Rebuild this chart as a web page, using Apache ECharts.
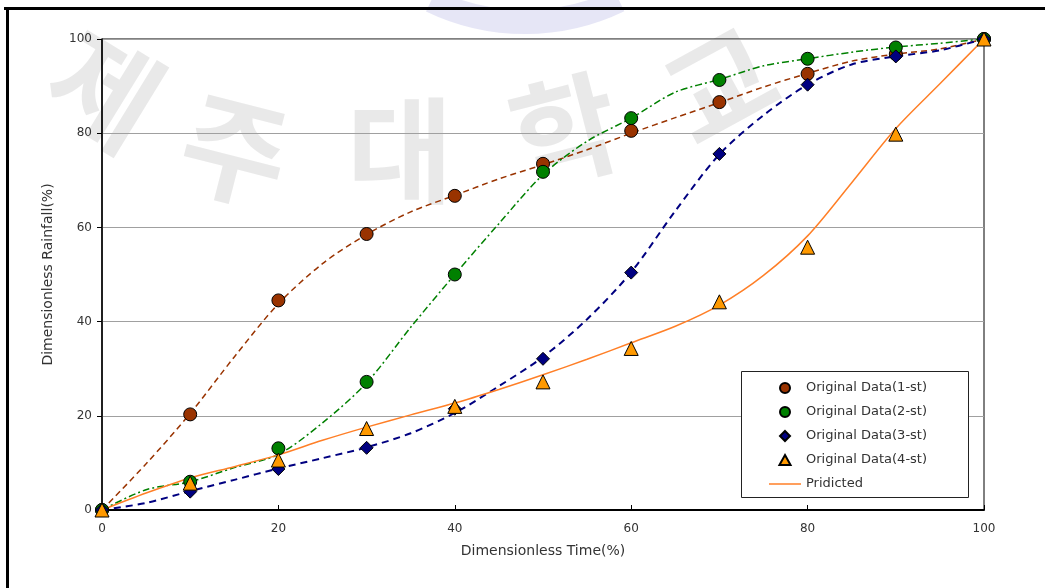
<!DOCTYPE html>
<html>
<head>
<meta charset="utf-8">
<script src="https://cdn.jsdelivr.net/npm/echarts@6/dist/echarts.min.js"></script>
<style>
  html, body { margin: 0; padding: 0; background: #fff; }
  #chart { width: 1045px; height: 588px; }
</style>
</head>
<body>
<div id="chart"></div>
<script>
// observed points (every 10%)
var xMarks = [0, 10, 20, 30, 40, 50, 60, 70, 80, 90, 100];
var storm1 = [0, 20.3, 44.5, 58.6, 66.7, 73.5, 80.5, 86.6, 92.6, 96.8, 100];
var storm2 = [0, 6.0, 13.1, 27.2, 50.0, 71.8, 83.2, 91.3, 95.8, 98.2, 100];
var storm3 = [0, 3.9, 8.7, 13.2, 21.5, 32.1, 50.4, 75.6, 90.3, 96.3, 100];
var storm4 = [0, 5.7, 10.6, 17.3, 22.0, 27.2, 34.3, 44.2, 55.8, 79.8, 100];

// curves read every 5%
var xCurve = [0, 5, 10, 15, 20, 25, 30, 35, 40, 45, 50, 55, 60, 65, 70, 75, 80, 85, 90, 95, 100];
var curve1 = [0, 9.8, 20.5, 32.5, 43.8, 52.3, 58.5, 63.3, 66.8, 70.3, 73.3, 76.5, 80, 83.3, 86.5, 89.8, 92.7, 95.3, 96.8, 97.9, 100];
var curve2 = [0, 4.3, 6.0, 9.0, 11.8, 18.5, 27.0, 38.8, 50.0, 60.8, 71.2, 78.3, 83.2, 88.7, 91.4, 94.3, 95.8, 97.2, 98.3, 99.1, 100];
var curve3 = [0, 1.5, 4.0, 6.4, 8.8, 11.0, 13.3, 16.3, 20.6, 26.3, 32.5, 40.5, 50.5, 63.5, 75.5, 83.8, 90.3, 94.6, 96.3, 97.6, 100];
var predicted = [0, 3.6, 6.8, 9.2, 11.7, 14.8, 17.6, 20.2, 22.7, 25.6, 28.7, 32.0, 35.5, 39.0, 43.5, 49.8, 58.2, 69.5, 81.0, 90.5, 100];

var yTicks = [0, 20, 40, 60, 80, 100];
var legendNames = ['Original Data(1-st)', 'Original Data(2-st)', 'Original Data(3-st)', 'Original Data(4-st)', 'Pridicted'];
var legendIcons = [
    'circle',
    'circle',
    'path://M5,0L10,5L5,10L0,5Z',
    'path://M5,0L10,9L0,9Z',
    'path://M0,0H32V1.5H0Z'
];

function pairs(xs, ys) {
    return xs.map(function (x, i) { return [x, ys[i]]; });
}

var font = 'DejaVu Sans';
var chart = echarts.init(document.getElementById('chart'));

function curve(name, data, color, width, dash) {
    return {
        name: name,
        type: 'line',
        data: pairs(xCurve, data),
        smooth: 0.3,
        symbol: 'none',
        silent: true,
        lineStyle: { color: color, width: width, type: dash },
        z: 2
    };
}

function marks(name, data, symbol, size, color) {
    return {
        name: name,
        type: 'scatter',
        data: pairs(xMarks, data),
        symbol: symbol,
        symbolSize: size,
        itemStyle: { color: color, borderColor: '#000', borderWidth: 1, opacity: 1 },
        z: 3
    };
}

// faint university watermark behind the plot
var watermark = [
    { ch: '제', x: 105, y: 90, r: -0.55 },
    { ch: '주', x: 235, y: 150, r: -0.25 },
    { ch: '대', x: 400, y: 150, r: 0 },
    { ch: '학', x: 565, y: 130, r: 0.25 },
    { ch: '교', x: 720, y: 85, r: 0.5 }
];

chart.setOption({
    animation: false,
    textStyle: { fontFamily: font },
    graphic: watermark.map(function (w) {
        return {
            type: 'text',
            x: w.x, y: w.y,
            rotation: w.r,
            z: -10,
            silent: true,
            style: {
                text: w.ch,
                fill: 'rgba(170,170,170,0.26)',
                font: 'bold 115px "Noto Sans CJK KR"',
                align: 'center',
                verticalAlign: 'middle',
                shadowBlur: 6,
                shadowColor: 'rgba(170,170,170,0.4)'
            }
        };
    }).concat([
        {
            type: 'arc', silent: true, z: -10,
            shape: { cx: 525, cy: -194, r: 216, startAngle: 1.12, endAngle: 2.02 },
            style: { stroke: 'rgba(130,130,210,0.2)', lineWidth: 24, fill: 'none' }
        },
        {
            type: 'line', silent: true,
            shape: { x1: 4, y1: 8.5, x2: 1045, y2: 8.5 },
            style: { stroke: '#000', lineWidth: 3 }
        },
        {
            type: 'line', silent: true,
            shape: { x1: 7.5, y1: 7, x2: 7.5, y2: 588 },
            style: { stroke: '#000', lineWidth: 3 }
        },
        {
            type: 'rect', silent: true, z: 5,
            shape: { x: 741.5, y: 371.5, width: 227, height: 126 },
            style: { fill: '#fff', stroke: '#222', lineWidth: 1 }
        }
    ]),
    grid: {
        left: 102, top: 39, width: 882, height: 471,
        show: true, borderColor: '#000', borderWidth: 1
    },
    xAxis: {
        type: 'value', min: 0, max: 100, interval: 20,
        name: 'Dimensionless Time(%)',
        nameLocation: 'middle', nameGap: 34,
        nameTextStyle: { fontSize: 14, color: '#333', fontFamily: font },
        axisLine: { lineStyle: { color: '#000', width: 2 } },
        axisTick: { show: true, inside: true, length: 5, lineStyle: { color: '#000' } },
        axisLabel: { fontSize: 12, color: '#333', margin: 13 },
        splitLine: { show: false }
    },
    yAxis: {
        type: 'value', min: 0, max: 100, interval: 20,
        name: 'Dimensionless Rainfall(%)',
        nameLocation: 'middle', nameGap: 47,
        nameTextStyle: { fontSize: 14, color: '#333', fontFamily: font },
        axisLine: { show: true, lineStyle: { color: '#000', width: 1.5 } },
        axisTick: { show: true, length: 5, lineStyle: { color: '#000' } },
        axisLabel: {
            fontSize: 12, color: '#333', margin: 10,
            formatter: function (v) { return yTicks.indexOf(v) >= 0 ? String(v) : ''; }
        },
        splitLine: { show: true, lineStyle: { color: '#a0a0a0', width: 1 } }
    },
    legend: {
        orient: 'vertical',
        left: 769, top: 381,
        padding: 0,
        z: 6,
        itemWidth: 32, itemHeight: 10, itemGap: 10,
        symbolKeepAspect: true,
        textStyle: { fontSize: 13, color: '#333', lineHeight: 14, fontFamily: font },
        data: legendNames.map(function (n, i) {
            return { name: n, icon: legendIcons[i] };
        })
    },
    series: [
        curve('curve1', curve1, '#993300', 1.5, [6, 4]),
        curve('curve2', curve2, '#008000', 1.5, [7, 3, 2, 3]),
        curve('curve3', curve3, '#000080', 2, [7, 5]),
        {
            name: 'Pridicted',
            type: 'line',
            data: pairs(xCurve, predicted),
            smooth: 0.3,
            symbol: 'none',
            lineStyle: { color: '#ff7f27', width: 1.5 },
            itemStyle: { color: '#ff7f27' },
            z: 2
        },
        marks('Original Data(1-st)', storm1, 'circle', 13, '#993300'),
        marks('Original Data(2-st)', storm2, 'circle', 13, '#008000'),
        marks('Original Data(3-st)', storm3, 'diamond', 13, '#000080'),
        marks('Original Data(4-st)', storm4, 'triangle', 14, '#ff9900')
    ]
});
</script>
</body>
</html>
